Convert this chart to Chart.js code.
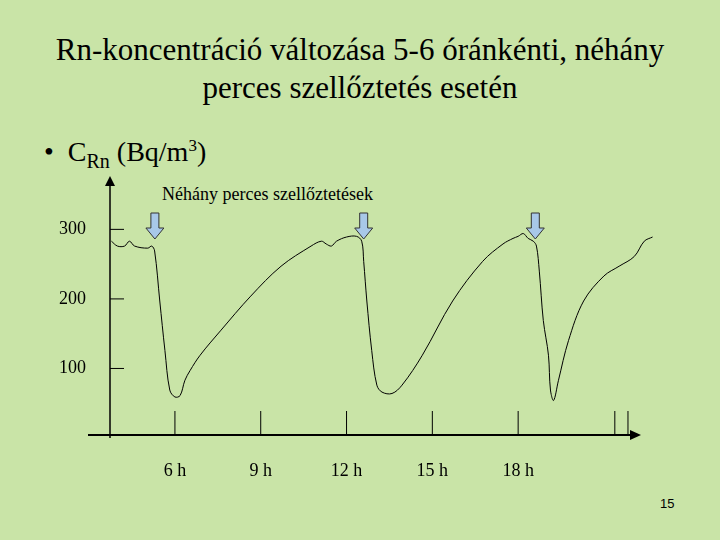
<!DOCTYPE html>
<html><head><meta charset="utf-8">
<script src="https://cdn.jsdelivr.net/npm/chart.js@4/dist/chart.umd.min.js"></script>
<style>
body{margin:0;background:#c9e4a7;width:720px;height:540px;overflow:hidden;}
#wrap{position:absolute;left:0;top:0;width:720px;height:540px;}
.t{position:absolute;color:#000;font-family:'Liberation Serif','DejaVu Serif',serif;}
</style></head><body>
<div class="t" style="left:0;width:720px;top:31px;text-align:center;font-size:31px;line-height:38px;">Rn-koncentráció változása 5-6 óránkénti, néhány<br>perces szellőztetés esetén</div>
<div class="t" style="left:44px;top:136px;font-size:28px;">•&nbsp; C<sub style="font-size:20px">Rn</sub> (Bq/m<sup style="font-size:17px">3</sup>)</div>
<div class="t" style="left:162px;top:184px;font-size:18px;">Néhány perces szellőztetések</div>
<div class="t" style="left:660px;top:496px;font-size:13px;font-family:'Liberation Sans',Arial,sans-serif;">15</div>
<div id="wrap"><canvas id="c" width="720" height="540"></canvas></div>
<script>
const hours=[3.78,3.99,4.24,4.41,4.59,5.05,5.19,5.29,5.47,5.65,5.82,6.0,6.18,6.35,6.53,6.88,7.59,8.65,9.71,10.76,11.12,11.29,11.47,11.65,12.0,12.35,12.53,12.6,12.71,12.88,13.06,13.24,13.59,13.94,14.65,15.71,16.76,17.47,17.82,18.0,18.18,18.35,18.53,18.64,18.74,18.88,19.06,19.13,19.24,19.41,19.76,20.29,21.0,21.53,22.06,22.41,22.7];
const values=[283,276,276,283,276,273,276,269,197,126,69,59,61,83,97,119,154,204,247,276,283,279,276,283,289,290,283,254,197,126,76,66,64,76,119,197,254,279,287,290,294,287,283,276,240,169,119,69,54,83,140,197,233,247,261,283,289];
const yTicks=[100,200,300];
const xTicks=[6,9,12,15,18];
const extraTicks=[21.38,21.84];
const ventHours=[5.3,12.6,18.6];
const pts=hours.map((h,i)=>({x:h,y:values[i]}));
const deco={id:'deco',afterDraw(ch){
 const c=ch.ctx,x=ch.scales.x,y=ch.scales.y;
 const x0=x.left,y0=y.bottom;
 c.save();c.strokeStyle='#000';c.fillStyle='#000';c.lineWidth=1.5;
 c.beginPath();c.moveTo(x0,y0);c.lineTo(x0,180);c.stroke();
 c.beginPath();c.moveTo(x0-5,186);c.lineTo(x0,176);c.lineTo(x0+5,186);c.fill();
 c.lineWidth=2;
 c.beginPath();c.moveTo(88,y0-3);c.lineTo(632,y0-3);c.stroke();
 c.beginPath();c.moveTo(630,y0-8);c.lineTo(641,y0-3);c.lineTo(630,y0+2);c.fill();
 c.lineWidth=1;
 yTicks.forEach(v=>{const p=y.getPixelForValue(v);c.beginPath();c.moveTo(x0,p);c.lineTo(x0+14,p);c.stroke();});
 xTicks.concat(extraTicks).forEach(h=>{const p=x.getPixelForValue(h);c.beginPath();c.moveTo(p,y0-3);c.lineTo(p,y0-27);c.stroke();});
 ventHours.forEach(h=>{const p=x.getPixelForValue(h);c.beginPath();
  c.moveTo(p-4,213);c.lineTo(p+4,213);c.lineTo(p+4,228);c.lineTo(p+9,228);c.lineTo(p,239);c.lineTo(p-9,228);c.lineTo(p-4,228);c.closePath();
  c.fillStyle='#a8c8e8';c.fill();c.strokeStyle='#333';c.stroke();});
 c.restore();}};
new Chart(document.getElementById('c'),{type:'scatter',
 data:{datasets:[{data:pts,showLine:true,borderColor:'#000',borderWidth:1,pointRadius:0,tension:0.35}]},
 options:{responsive:false,animation:false,
  layout:{padding:{left:40,right:66,top:180,bottom:60}},
  plugins:{legend:{display:false},tooltip:{enabled:false}},
  scales:{
   x:{type:'linear',min:3.73,max:22.75,grid:{display:false},border:{display:false},
      afterBuildTicks:s=>{s.ticks=xTicks.map(v=>({value:v}));},
      afterFit:s=>{s.height=42;},
      ticks:{padding:14,color:'#000',font:{family:'Liberation Serif',size:18},callback:v=>v+' h'}},
   y:{min:0,max:371,grid:{display:false},border:{display:false},
      afterBuildTicks:s=>{s.ticks=yTicks.map(v=>({value:v}));},
      afterFit:s=>{s.width=70;},
      ticks:{padding:16,color:'#000',font:{family:'Liberation Serif',size:18}}}}},
 plugins:[deco]});
</script></body></html>
